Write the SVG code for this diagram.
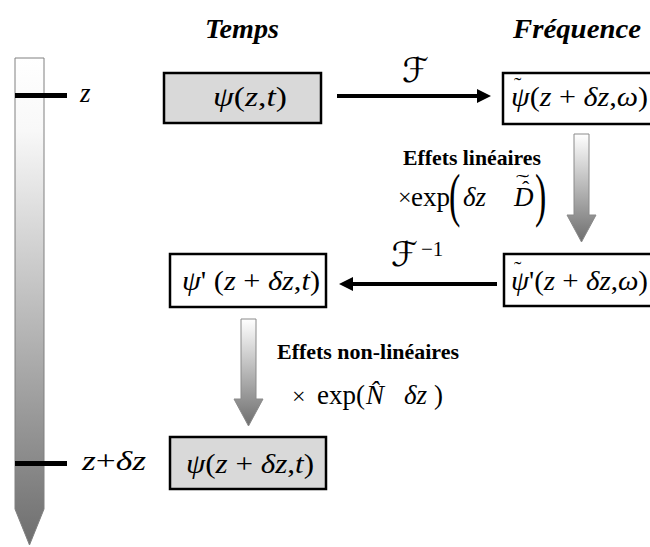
<svg xmlns="http://www.w3.org/2000/svg" width="650" height="547" viewBox="0 0 650 547">
<defs>
<linearGradient id="gBar" x1="0" y1="0" x2="0" y2="1">
<stop offset="0" stop-color="#ffffff"/>
<stop offset="0.15" stop-color="#f8f8f8"/>
<stop offset="1" stop-color="#6e6e6e"/>
</linearGradient>
<linearGradient id="gArrow" x1="0" y1="0" x2="0" y2="1">
<stop offset="0" stop-color="#ffffff"/>
<stop offset="1" stop-color="#6e6e6e"/>
</linearGradient>
<marker id="head" viewBox="0 0 10 10" refX="0" refY="5" markerWidth="3.75" markerHeight="3.5" orient="auto" markerUnits="strokeWidth">
<path d="M0,0 L10,5 L0,10 Z" fill="#000"/>
</marker>
</defs>
<style>
.m{font-family:"Liberation Serif","Times New Roman",serif;font-size:27px;fill:#000}
.i{font-style:italic}
.t{font-family:"Liberation Serif","Times New Roman",serif;font-size:27px;font-weight:bold;font-style:italic;fill:#000}
.b{font-family:"Liberation Serif","Times New Roman",serif;font-size:21px;font-weight:bold;fill:#000}
.box{stroke:#000;stroke-width:2.5}
.gray{fill:#d9d9d9}
.white{fill:#fff}
.conn{stroke:#000;stroke-width:4;fill:none}
.garr{fill:url(#gArrow);stroke:#8a8a8a;stroke-width:1}
.sc{font-family:"DejaVu Serif","DejaVu Sans",serif;font-style:italic;font-size:34px;fill:#000}
.sup{font-family:"Liberation Serif","Times New Roman",serif;font-size:21px;fill:#000}
.big{font-family:"Liberation Serif","Times New Roman",serif;font-size:34px;fill:#000}
.times{font-family:"Liberation Serif","Times New Roman",serif;font-size:24px;fill:#000}
.acc{font-family:"Liberation Serif","Times New Roman",serif;font-size:22px;fill:#000}
</style>
<rect width="650" height="547" fill="#fff"/>

<g id="axis">
<path d="M15,58 H44 V509 L29.5,545 L15,509 Z" fill="url(#gBar)" stroke="#808080" stroke-width="1"/>
<rect x="15" y="93" width="52" height="5" fill="#000"/>
<rect x="15" y="461" width="52" height="5" fill="#000"/>
<text class="m i" x="80" y="102">z</text>
<text class="m" x="82" y="470" textLength="64" lengthAdjust="spacingAndGlyphs"><tspan class="i">z</tspan>+<tspan class="i">δz</tspan></text>
</g>

<g id="titles">
<text class="t" x="242" y="38" text-anchor="middle" textLength="74" lengthAdjust="spacingAndGlyphs">Temps</text>
<text class="t" x="577" y="38" text-anchor="middle" textLength="128" lengthAdjust="spacingAndGlyphs">Fréquence</text>
</g>

<g id="connectors">
<line class="conn" x1="337" y1="96" x2="477" y2="96" marker-end="url(#head)"/>
<text class="sc" x="402" y="82">ℱ</text>
<line class="conn" x1="497" y1="284" x2="353" y2="284" marker-end="url(#head)"/>
<text class="sc" x="391" y="266">ℱ</text>
<text class="sup" x="421" y="256">−1</text>
<path class="garr" d="M574,134 H589 V215 H596 L581.5,242 L567,215 H574 Z"/>
<path class="garr" d="M241,319 H256 V399 H263 L248.5,426 L234,399 H241 Z"/>
</g>

<g id="lin-label">
<text class="b" x="403" y="165" textLength="138" lengthAdjust="spacingAndGlyphs">Effets linéaires</text>
<text class="times" x="398" y="205">×</text>
<text class="m" x="411" y="206">exp</text>
<text class="big" transform="translate(449,215) scale(1,1.75)">(</text>
<text class="m i" x="463" y="206">δz</text>
<text class="m i" x="514" y="206">D</text>
<text class="acc" x="522" y="196">ˆ</text>
<text class="acc" transform="translate(516,189) scale(1.8,1)">˜</text>
<text class="big" transform="translate(535,215) scale(1,1.75)">)</text>
</g>

<g id="nl-label">
<text class="b" x="277" y="359" textLength="182" lengthAdjust="spacingAndGlyphs">Effets non-linéaires</text>
<text class="times" x="292" y="404">×</text>
<text class="m" x="317" y="404">exp(</text>
<text class="m i" x="366" y="404">N̂</text>
<text class="m i" x="404" y="404">δz</text>
<text class="m" x="434" y="404">)</text>
</g>

<g id="n1">
<rect class="box gray" x="164" y="73" width="157" height="50"/>
<text class="m" x="213" y="106" textLength="74" lengthAdjust="spacingAndGlyphs"><tspan class="i">ψ</tspan>(<tspan class="i">z</tspan>,<tspan class="i">t</tspan>)</text>
</g>

<g id="n2">
<rect class="box white" x="503" y="73" width="150" height="51"/>
<text class="m" x="511" y="106" textLength="137" lengthAdjust="spacingAndGlyphs"><tspan class="i">ψ</tspan>(<tspan class="i">z</tspan> + <tspan class="i">δz</tspan>,<tspan class="i">ω</tspan>)</text>
<text class="acc" x="514" y="92">˜</text>
</g>

<g id="n3">
<rect class="box white" x="170" y="254" width="156" height="53"/>
<text class="m" x="182" y="290" textLength="138" lengthAdjust="spacingAndGlyphs"><tspan class="i">ψ</tspan>' (<tspan class="i">z</tspan> + <tspan class="i">δz</tspan>,<tspan class="i">t</tspan>)</text>
</g>

<g id="n4">
<rect class="box white" x="504" y="254" width="150" height="52"/>
<text class="m" x="511" y="290" textLength="137" lengthAdjust="spacingAndGlyphs"><tspan class="i">ψ</tspan>'(<tspan class="i">z</tspan> + <tspan class="i">δz</tspan>,<tspan class="i">ω</tspan>)</text>
<text class="acc" x="514" y="276">˜</text>
</g>

<g id="n5">
<rect class="box gray" x="170" y="437" width="156" height="52"/>
<text class="m" x="186" y="473" textLength="128" lengthAdjust="spacingAndGlyphs"><tspan class="i">ψ</tspan>(<tspan class="i">z</tspan> + <tspan class="i">δz</tspan>,<tspan class="i">t</tspan>)</text>
</g>
</svg>
